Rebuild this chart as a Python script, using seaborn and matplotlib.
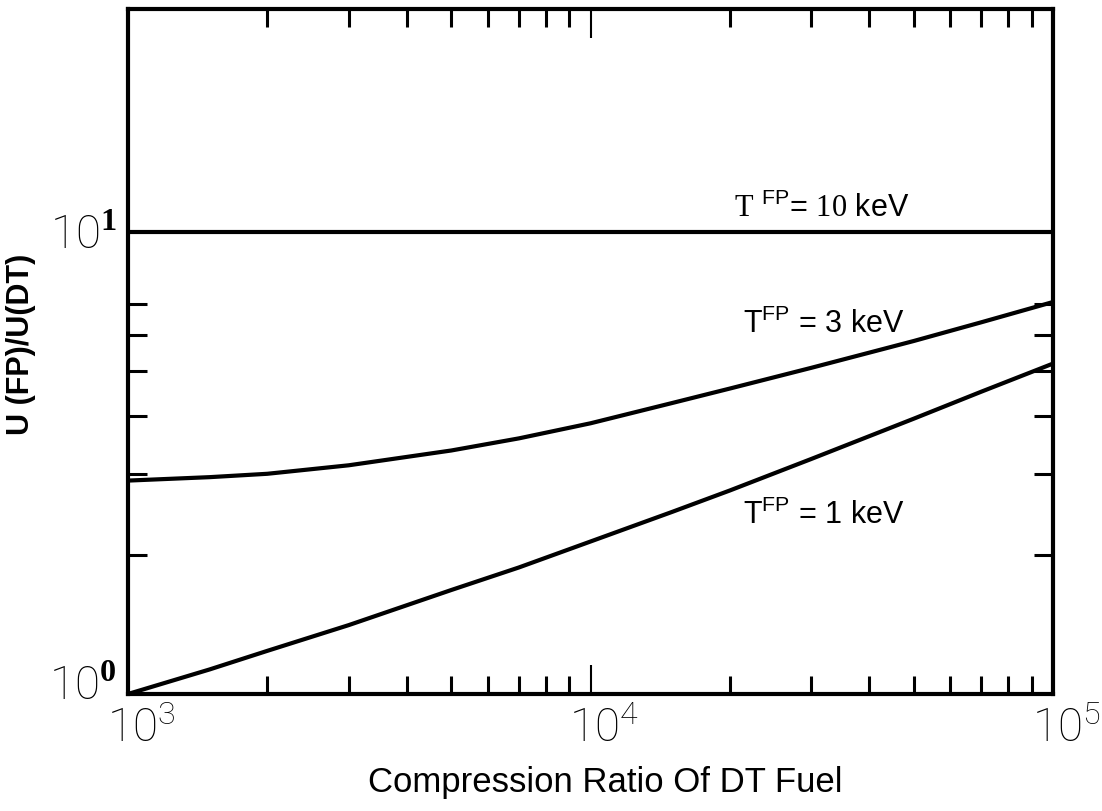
import numpy as np
import pandas as pd
import matplotlib
matplotlib.use('Agg')
import matplotlib.pyplot as plt
import matplotlib.transforms as mtransforms
from matplotlib.ticker import FixedLocator, NullFormatter, LogLocator
import seaborn as sns

# Style
sns.set_style('white')
plt.rcParams['font.family'] = ['Liberation Sans', 'DejaVu Sans']
plt.rcParams['mathtext.fontset'] = 'custom'
plt.rcParams['mathtext.rm'] = 'Liberation Serif'
plt.rcParams['mathtext.sf'] = 'Liberation Sans'
plt.rcParams['mathtext.tt'] = 'Roboto:light'
plt.rcParams['mathtext.bf'] = 'Liberation Serif:bold'
for key in ['text.color', 'axes.labelcolor', 'xtick.color', 'ytick.color', 'axes.edgecolor']:
    plt.rcParams[key] = 'black'

# Data
compression = [1e3, 1.5e3, 2e3, 3e3, 5e3, 7e3, 1e4, 1.5e4, 2e4, 3e4, 5e4, 7e4, 1e5]
ratio_10kev = [10.0, 10.0, 10.0, 10.0, 10.0, 10.0, 10.0, 10.0, 10.0, 10.0, 10.0, 10.0, 10.0]
ratio_3kev = [2.90, 2.95, 3.00, 3.13, 3.37, 3.58, 3.86, 4.27, 4.59, 5.09, 5.82, 6.39, 7.07]
ratio_1kev = [1.00, 1.13, 1.24, 1.41, 1.68, 1.88, 2.14, 2.48, 2.76, 3.23, 3.95, 4.52, 5.20]
temps = ['10 keV', '3 keV', '1 keV']

x_ticks = [1e3, 1e4, 1e5]
x_tick_labels = [r'$\mathtt{10}^{\mathtt{3}}$', r'$\mathtt{10}^{\mathtt{4}}$', r'$\mathtt{10}^{\mathtt{5}}$']
y_ticks = [1, 10]
y_tick_labels = [r'$\mathtt{10}^{\mathbf{0}}$', r'$\mathtt{10}^{\mathbf{1}}$']
y_minor = [2, 3, 4, 5, 6, 7]

df = pd.DataFrame({
    'Compression': compression * 3,
    'Ratio': ratio_10kev + ratio_3kev + ratio_1kev,
    'T': [temps[0]] * len(compression) + [temps[1]] * len(compression) + [temps[2]] * len(compression),
})

fig = plt.figure(figsize=(11.02, 8.11), dpi=100)
ax = fig.add_axes([0.1162, 0.1443, 0.8394, 0.8446])
ax.set_xscale('log')
ax.set_yscale('log')

sns.lineplot(data=df, x='Compression', y='Ratio', hue='T', palette=['black'] * 3,
             estimator=None, sort=True, linewidth=3, legend=False, ax=ax)

ax.set_xlim(1e3, 1e5)
ax.set_ylim(1, 30.5)

# x ticks
ax.set_xticks(x_ticks, x_tick_labels)
ax.xaxis.set_minor_locator(LogLocator(base=10, subs=np.arange(2, 10)))
ax.xaxis.set_minor_formatter(NullFormatter())
ax.tick_params(axis='x', which='major', direction='in', top=True, bottom=True,
               length=21, width=1.5, labelsize=33, pad=10)
ax.tick_params(axis='x', which='minor', direction='in', top=True, bottom=True,
               length=13, width=2.2)

# y ticks
ax.set_yticks(y_ticks, y_tick_labels)
ax.yaxis.set_minor_locator(FixedLocator(y_minor))
ax.yaxis.set_minor_formatter(NullFormatter())
ax.tick_params(axis='y', which='major', length=0, labelsize=33, pad=8)
ax.tick_params(axis='y', which='minor', direction='in', left=True, right=True,
               length=14, width=2.2)

shift_x = mtransforms.ScaledTranslation(0.13, 0, fig.dpi_scale_trans)
for lbl in ax.get_xticklabels():
    lbl.set_transform(lbl.get_transform() + shift_x)
ylbls = ax.get_yticklabels()
ylbls[0].set_transform(ylbls[0].get_transform() + mtransforms.ScaledTranslation(0, 0.11, fig.dpi_scale_trans))

for sp in ax.spines.values():
    sp.set_linewidth(3)
    sp.set_color('black')

ax.set_xlabel('Compression Ratio Of DT Fuel', fontsize=25)
ax.xaxis.set_label_coords(0.516, -0.105)
ax.set_ylabel('U (FP)/U(DT)', fontsize=22, fontweight='bold')
ax.yaxis.set_label_coords(-0.10, 0.51)

# Curve labels
ax.text(3.16e4, 10.8, r'$\mathrm{T}$ $^{\mathsf{FP}}$= $\mathrm{10}$ keV', fontsize=22,
        ha='center', va='baseline')
ax.text(3.2e4, 6.07, r'T$^{\mathsf{FP}}$ = 3 keV', fontsize=22, ha='center', va='baseline')
ax.text(3.2e4, 2.33, r'T$^{\mathsf{FP}}$ = 1 keV', fontsize=22, ha='center', va='baseline')

plt.savefig('out.png', dpi=100)
